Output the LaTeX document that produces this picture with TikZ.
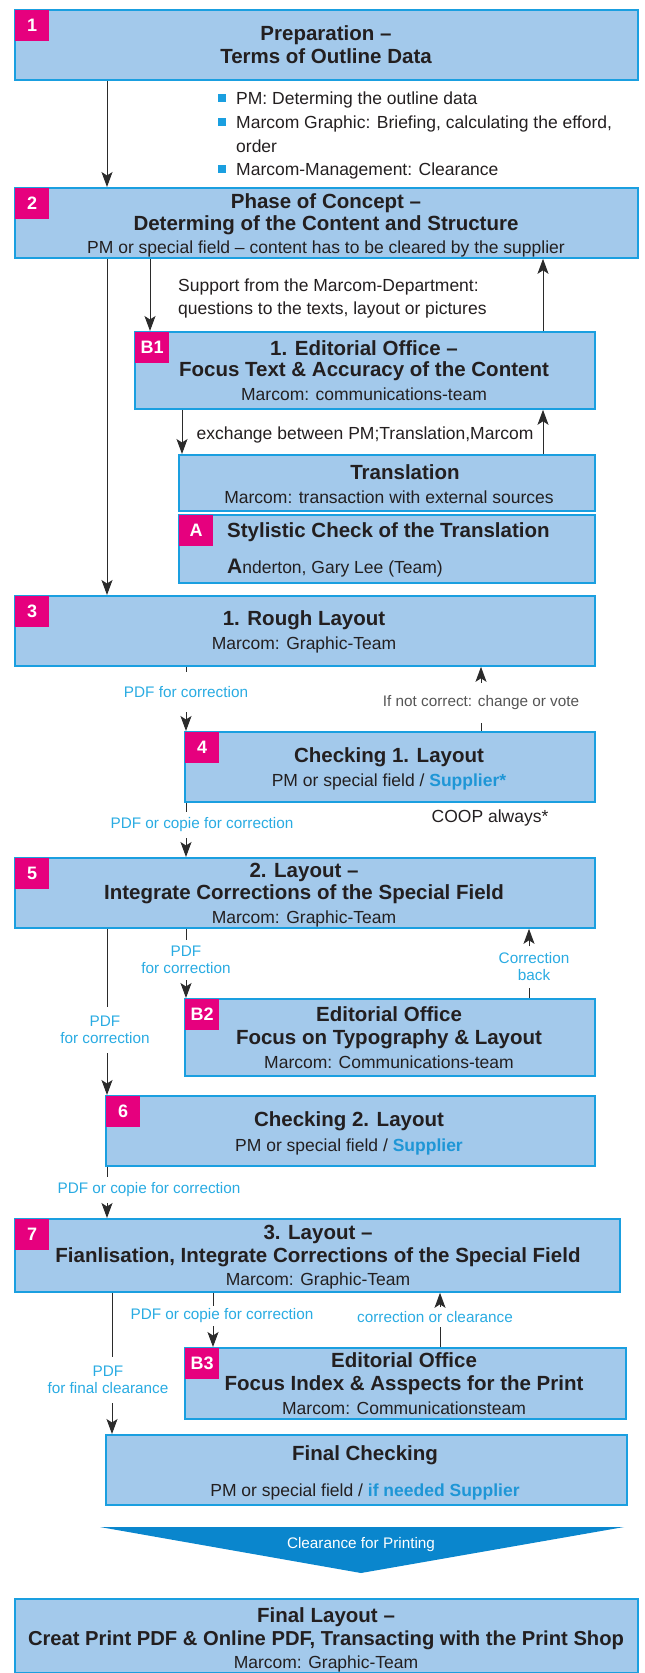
\documentclass[tikz,border=0pt]{standalone}
\usepackage{fontspec}
\setmainfont{Liberation Sans}
\usepackage{xcolor}
\usepackage{tikz}
\usetikzlibrary{calc,arrows.meta}
\definecolor{boxfill}{HTML}{A3C9EB}
\definecolor{boxline}{HTML}{1A9FE0}
\definecolor{magbadge}{HTML}{E6007E}
\definecolor{ink}{HTML}{231F20}
\definecolor{cwire}{HTML}{2B2B2B}
\definecolor{noteblue}{HTML}{29ABE2}
\definecolor{notegrey}{HTML}{555555}
\definecolor{supblue}{HTML}{1E96D6}
\definecolor{banner}{HTML}{0A86CD}
\newcommand{\ttlfont}{\fontsize{20.5}{23}\selectfont\bfseries}
\newcommand{\subfont}{\fontsize{17.5}{20}\selectfont}
\newcommand{\notefont}{\fontsize{15.3}{17}\selectfont}
\newcommand{\badgefont}{\fontsize{18}{18}\selectfont\bfseries}
\tikzset{
  box/.style={draw=boxline, fill=boxfill, line width=1.8pt, anchor=north west, inner sep=0pt},
  badge/.style={fill=magbadge, text=white, font=\badgefont, anchor=north west,
    minimum width=34pt, minimum height=31pt, inner sep=0pt},
  ttl/.style={text=ink, font=\ttlfont, inner sep=0pt, text height=14.7pt, text depth=0pt},
  sub/.style={text=ink, font=\subfont, inner sep=0pt, text height=12.5pt, text depth=0pt},
  bl/.style={sub, anchor=west},
  bul/.style={fill=boxline, minimum size=8pt, inner sep=0pt},
  note/.style={text=noteblue, font=\notefont, align=center, inner sep=0pt},
  wire/.style={draw=cwire, line width=1pt},
  arr/.style={wire, -{Stealth[length=15pt,width=11pt,inset=3.5pt]}},
}

\begin{document}
\begin{tikzpicture}[x=1pt,y=-1pt]
  \useasboundingbox (0,0) rectangle (645,1673);
  % lanes for the connectors
  \coordinate (lnA) at (107,0);
  \coordinate (lnB) at (150,0);
  \coordinate (lnC) at (182,0);
  \coordinate (lnD) at (186,0);
  \coordinate (lnE) at (529,0);
  \coordinate (lnF) at (213,0);
  \coordinate (lnG) at (440,0);
  \coordinate (lnH) at (112,0);
  \coordinate (lnR) at (543,0);

  % boxes
  \node[box, minimum width=623pt, minimum height=70pt] (b1) at (14,9) {};
  \node[box, minimum width=623pt, minimum height=70pt] (b2) at (14,187) {};
  \node[box, minimum width=460pt, minimum height=77pt] (e1) at (134,331) {};
  \node[box, minimum width=416pt, minimum height=56pt] (tr) at (178,454) {};
  \node[box, minimum width=416pt, minimum height=68pt] (sc) at (178,514) {};
  \node[box, minimum width=580pt, minimum height=70pt] (b3) at (14,595) {};
  \node[box, minimum width=410pt, minimum height=70pt] (b4) at (184,731) {};
  \node[box, minimum width=580pt, minimum height=70pt] (b5) at (14,857) {};
  \node[box, minimum width=410pt, minimum height=77pt] (e2) at (184,998) {};
  \node[box, minimum width=489pt, minimum height=70pt] (b6) at (105,1095) {};
  \node[box, minimum width=605pt, minimum height=73pt] (b7) at (14,1218) {};
  \node[box, minimum width=441pt, minimum height=71pt] (e3) at (184,1347) {};
  \node[box, minimum width=521pt, minimum height=70pt] (fc) at (105,1434) {};
  \node[box, minimum width=623pt, minimum height=74pt] (fl) at (14,1598) {};

  % badges
  \node[badge] (k1) at ([xshift=1pt,yshift=-1pt]b1.north west) {1};
  \node[badge] (k2) at ([xshift=1pt,yshift=-1pt]b2.north west) {2};
  \node[badge] (kB1) at ([xshift=1pt,yshift=-1pt]e1.north west) {B1};
  \node[badge] (kA) at ([xshift=1pt,yshift=-1pt]sc.north west) {A};
  \node[badge] (k3) at ([xshift=1pt,yshift=-1pt]b3.north west) {3};
  \node[badge] (k4) at ([xshift=1pt,yshift=-1pt]b4.north west) {4};
  \node[badge] (k5) at ([xshift=1pt,yshift=-1pt]b5.north west) {5};
  \node[badge] (kB2) at ([xshift=1pt,yshift=-1pt]e2.north west) {B2};
  \node[badge] (k6) at ([xshift=1pt,yshift=-1pt]b6.north west) {6};
  \node[badge] (k7) at ([xshift=1pt,yshift=-1pt]b7.north west) {7};
  \node[badge] (kB3) at ([xshift=1pt,yshift=-1pt]e3.north west) {B3};

  % box texts
  \node[ttl] (b1a) at (326,33) {Preparation –};
  \node[ttl] (b1b) at (326,56) {Terms of Outline Data};
  \node[ttl] (b2a) at (326,201) {Phase of Concept –};
  \node[ttl] (b2b) at (326,223) {Determing of the Content and Structure};
  \node[sub] (b2c) at (326,247) {PM or special field – content has to be cleared by the supplier};
  \node[ttl] (e1a) at (364,348) {1. Editorial Office –};
  \node[ttl] (e1b) at (364,369) {Focus Text \& Accuracy of the Content};
  \node[sub] (e1c) at (364,394) {Marcom: communications-team};
  \node[ttl] (tra) at (405,472) {Translation};
  \node[sub] (trb) at (389,497) {Marcom: transaction with external sources};
  \node[ttl, anchor=west] (sca) at (227,530) {Stylistic Check of the Translation};
  \node[sub, anchor=west] (scb) at (227,567) {{\fontsize{21}{21}\selectfont\bfseries A}nderton, Gary Lee (Team)};
  \node[ttl] (b3a) at (304,618) {1. Rough Layout};
  \node[sub] (b3b) at (304,643) {Marcom: Graphic-Team};
  \node[ttl] (b4a) at (389,755) {Checking 1. Layout};
  \node[sub] (b4b) at (389,780) {PM or special field / \textcolor{supblue}{\bfseries Supplier*}};
  \node[ttl] (b5a) at (304,870) {2. Layout –};
  \node[ttl] (b5b) at (304,892) {Integrate Corrections of the Special Field};
  \node[sub] (b5c) at (304,917) {Marcom: Graphic-Team};
  \node[ttl] (e2a) at (389,1014) {Editorial Office};
  \node[ttl] (e2b) at (389,1037) {Focus on Typography \& Layout};
  \node[sub] (e2c) at (389,1062) {Marcom: Communications-team};
  \node[ttl] (b6a) at (349,1119) {Checking 2. Layout};
  \node[sub] (b6b) at (349,1145) {PM or special field / \textcolor{supblue}{\bfseries Supplier}};
  \node[ttl] (b7a) at (318,1232) {3. Layout –};
  \node[ttl] (b7b) at (318,1255) {Fianlisation, Integrate Corrections of the Special Field};
  \node[sub] (b7c) at (318,1279) {Marcom: Graphic-Team};
  \node[ttl] (e3a) at (404,1360) {Editorial Office};
  \node[ttl] (e3b) at (404,1383) {Focus Index \& Asspects for the Print};
  \node[sub] (e3c) at (404,1408) {Marcom: Communicationsteam};
  \node[ttl] (fca) at (365,1453) {Final Checking};
  \node[sub] (fcb) at (365,1490) {PM or special field / \textcolor{supblue}{\bfseries if needed Supplier}};
  \node[ttl] (fla) at (326,1615) {Final Layout –};
  \node[ttl, font=\fontsize{20.2}{23}\selectfont\bfseries] (flb) at (326,1638) {Creat Print PDF \& Online PDF, Transacting with the Print Shop};
  \node[sub] (flc) at (326,1662) {Marcom: Graphic-Team};

  % bullet list
  \node[bul] (q1) at (222,98) {};
  \node[bul] (q2) at (222,122) {};
  \node[bul] (q3) at (222,169) {};
  \node[bl] (l1) at (236,98) {PM: Determing the outline data};
  \node[bl] (l2) at (236,122) {Marcom Graphic: Briefing, calculating the efford,};
  \node[bl] (l2b) at (236,146) {order};
  \node[bl] (l3) at (236,169) {Marcom-Management: Clearance};

  % free texts
  \node[bl] (sp1) at (178,285) {Support from the Marcom-Department:};
  \node[bl] (sp2) at (178,308) {questions to the texts, layout or pictures};
  \node[sub] (ex) at (365,433) {exchange between PM;Translation,Marcom};
  \node[sub] (coop) at (490,816) {COOP always*};

  % connector labels
  \node[note, minimum height=40pt] (n1) at (186,692) {PDF for correction};
  \node[note, text=notegrey, minimum height=40pt] (n2) at (481,703) {If not correct: change or vote};
  \node[note, minimum height=26pt] (n3) at (202,825) {PDF or copie for correction};
  \node[note, minimum height=46pt] (n4) at (105,1030) {PDF\\for correction};
  \node[note, minimum height=40pt] (n5) at (186,960) {PDF\\for correction};
  \node[note, minimum height=41pt] (n6) at (534,967) {Correction\\back};
  \node[note, minimum height=26pt] (n7) at (149,1190) {PDF or copie for correction};
  \node[note, minimum height=20pt] (n8) at (222,1316) {PDF or copie for correction};
  \node[note, minimum height=20pt] (n9) at (435,1317) {correction or clearance};
  \node[note, minimum height=46pt] (n10) at (108,1380) {PDF\\for final clearance};

  % connectors
  \draw[arr] (b1.south -| lnA) -- (b2.north -| lnA);
  \draw[arr] (b2.south -| lnA) -- (b3.north -| lnA);
  \draw[arr] (b2.south -| lnB) -- (e1.north -| lnB);
  \draw[arr] (e1.north -| lnR) -- (b2.south -| lnR);
  \draw[arr] (e1.south -| lnC) -- (tr.north -| lnC);
  \draw[arr] (tr.north -| lnR) -- (e1.south -| lnR);
  \draw[wire] (b3.south -| lnD) -- (n1.north -| lnD);
  \draw[arr] (n1.south -| lnD) -- (b4.north -| lnD);
  \draw[wire] (b4.north -| n2) -- (n2.south);
  \draw[arr] (n2.north) -- (b3.south -| n2);
  \draw[wire] (b4.south -| lnD) -- (n3.north -| lnD);
  \draw[arr] (n3.south -| lnD) -- (b5.north -| lnD);
  \draw[wire] (b5.south -| lnA) -- (n4.north -| lnA);
  \draw[arr] (n4.south -| lnA) -- (b6.north -| lnA);
  \draw[wire] (b5.south -| lnD) -- (n5.north -| lnD);
  \draw[arr] (n5.south -| lnD) -- (e2.north -| lnD);
  \draw[wire] (e2.north -| lnE) -- (n6.south -| lnE);
  \draw[arr] (n6.north -| lnE) -- (b5.south -| lnE);
  \draw[wire] (b6.south -| lnA) -- (n7.north -| lnA);
  \draw[arr] (n7.south -| lnA) -- (b7.north -| lnA);
  \draw[wire] (b7.south -| lnF) -- (n8.north -| lnF);
  \draw[arr] (n8.south -| lnF) -- (e3.north -| lnF);
  \draw[wire] (e3.north -| lnG) -- (n9.south -| lnG);
  \draw[arr] (n9.north -| lnG) -- (b7.south -| lnG);
  \draw[wire] (b7.south -| lnH) -- (n10.north -| lnH);
  \draw[arr] (n10.south -| lnH) -- (fc.north -| lnH);

  % clearance banner
  \fill[banner] (100,1527) -- (624,1527) -- (361,1573) -- cycle;
  \node[note, text=white] (clr) at (361,1545) {Clearance for Printing};
\end{tikzpicture}
\end{document}
